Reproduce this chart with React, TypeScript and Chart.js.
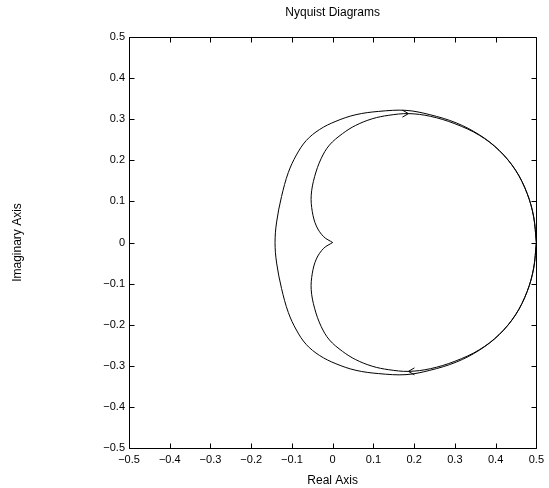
import React, { useEffect, useRef } from 'react';
import { Chart, registerables } from 'chart.js';

Chart.register(...registerables);

const TITLE = 'Nyquist Diagrams';
const X_TITLE = 'Real Axis';
const Y_TITLE = 'Imaginary Axis';

const xTickValues = [-0.5, -0.4, -0.3, -0.2, -0.1, 0, 0.1, 0.2, 0.3, 0.4, 0.5];
const xTickLabels = ['\u22120.5', '\u22120.4', '\u22120.3', '\u22120.2', '\u22120.1', '0', '0.1', '0.2', '0.3', '0.4', '0.5'];
const yTickValues = [-0.5, -0.4, -0.3, -0.2, -0.1, 0, 0.1, 0.2, 0.3, 0.4, 0.5];
const yTickLabels = ['\u22120.5', '\u22120.4', '\u22120.3', '\u22120.2', '\u22120.1', '0', '0.1', '0.2', '0.3', '0.4', '0.5'];

// Outer loop, right end -> top -> left -> bottom -> right end
const outerX = [
  0.5, 0.4934, 0.4774, 0.449, 0.4085, 0.36, 0.3034, 0.2386, 0.18, 0.113, 0.057, 0.008, -0.032, -0.065, -0.089, -0.109, -0.1255, -0.1376, -0.1415,
  -0.1376, -0.1255, -0.109, -0.089, -0.065, -0.032, 0.008, 0.057, 0.113, 0.18, 0.2386, 0.3034, 0.36, 0.4085, 0.449, 0.4774, 0.4934, 0.5,
];
const outerY = [
  0, 0.0626, 0.1194, 0.176, 0.2245, 0.262, 0.291, 0.311, 0.3215, 0.319, 0.311, 0.295, 0.275, 0.248, 0.213, 0.17, 0.112, 0.05, 0,
  -0.05, -0.112, -0.17, -0.213, -0.248, -0.275, -0.295, -0.311, -0.319, -0.3215, -0.311, -0.291, -0.262, -0.2245, -0.176, -0.1194, -0.0626, 0,
];

// Inner branch, upper half: origin -> left bulge -> joins the outer loop
const innerUpX = [0, -0.022, -0.04, -0.05, -0.0527, -0.0444, -0.0284, -0.008, 0.0243, 0.0566, 0.097, 0.1376, 0.186, 0.24, 0.3, 0.36, 0.4085, 0.449, 0.4774, 0.4934, 0.5];
const innerUpY = [0, 0.014, 0.04, 0.075, 0.115, 0.16, 0.204, 0.237, 0.265, 0.285, 0.301, 0.3095, 0.3136, 0.307, 0.289, 0.261, 0.224, 0.1757, 0.1192, 0.0625, 0];

// Inner branch, lower half
const innerLoX = [0, -0.022, -0.04, -0.05, -0.0527, -0.0444, -0.0284, -0.008, 0.0243, 0.0566, 0.097, 0.1376, 0.186, 0.24, 0.3, 0.36, 0.4085, 0.449, 0.4774, 0.4934, 0.5];
const innerLoY = [0, -0.014, -0.04, -0.075, -0.115, -0.16, -0.204, -0.237, -0.265, -0.285, -0.301, -0.3095, -0.3136, -0.307, -0.289, -0.261, -0.224, -0.1757, -0.1192, -0.0625, 0];

// Direction arrows (tip positions and direction along x)
const arrowX = [0.186, 0.186];
const arrowY = [0.3136, -0.3136];
const arrowDir = [1, -1];

const FONT = "'Liberation Sans', Arial, Helvetica, sans-serif";

const toPts = (xs: number[], ys: number[]) => xs.map((x, i) => ({ x, y: ys[i] }));

const framePlugin = {
  id: 'matlabFrame',
  afterDraw(chart: any) {
    const { ctx, chartArea } = chart;
    const xs = chart.scales.x;
    const ys = chart.scales.y;
    const L = Math.round(chartArea.left) + 0.5;
    const R = Math.round(chartArea.right) + 0.5;
    const T = Math.round(chartArea.top) + 0.5;
    const B = Math.round(chartArea.bottom) + 0.5;
    const TL = 5;
    ctx.save();
    ctx.strokeStyle = '#000';
    ctx.lineWidth = 1;
    ctx.beginPath();
    ctx.rect(L, T, R - L, B - T);
    xs.ticks.forEach((t: any) => {
      const p = Math.round(xs.getPixelForValue(t.value)) + 0.5;
      ctx.moveTo(p, B);
      ctx.lineTo(p, B - TL);
      ctx.moveTo(p, T);
      ctx.lineTo(p, T + TL);
    });
    ys.ticks.forEach((t: any) => {
      const p = Math.round(ys.getPixelForValue(t.value)) + 0.5;
      ctx.moveTo(L, p);
      ctx.lineTo(L + TL, p);
      ctx.moveTo(R, p);
      ctx.lineTo(R - TL, p);
    });
    ctx.stroke();
    // arrows
    ctx.beginPath();
    arrowX.forEach((ax, i) => {
      const px = xs.getPixelForValue(ax);
      const py = ys.getPixelForValue(arrowY[i]);
      const d = arrowDir[i];
      ctx.moveTo(px - d * 6, py - 3.5);
      ctx.lineTo(px, py);
      ctx.lineTo(px - d * 6, py + 3.5);
    });
    ctx.stroke();
    ctx.restore();
  },
};

export default function App() {
  const ref = useRef<HTMLCanvasElement | null>(null);
  useEffect(() => {
    if (!ref.current) return;
    const lineDs = (data: any) => ({
      data,
      showLine: true,
      borderColor: '#000',
      borderWidth: 1,
      pointRadius: 0,
      tension: 0.35,
      fill: false,
    });
    const tickFont = { family: FONT, size: 11 };
    const titleFont = { family: FONT, size: 12, weight: 'normal' as const };
    const chart = new Chart(ref.current, {
      type: 'scatter',
      data: {
        datasets: [
          lineDs(toPts(outerX, outerY)),
          lineDs(toPts(innerUpX, innerUpY)),
          lineDs(toPts(innerLoX, innerLoY)),
        ],
      },
      options: {
        animation: false,
        responsive: false,
        maintainAspectRatio: false,
        layout: { padding: { left: 0, right: 8, top: 0, bottom: 0 } },
        plugins: {
          legend: { display: false },
          tooltip: { enabled: false },
          title: {
            display: true,
            fullSize: false,
            text: TITLE,
            color: '#000',
            font: titleFont,
            padding: { top: 5, bottom: 17.6 },
          },
        },
        scales: {
          x: {
            type: 'linear',
            min: -0.5,
            max: 0.5,
            afterBuildTicks: (s: any) => {
              s.ticks = xTickValues.map((v) => ({ value: v }));
            },
            afterFit: (s: any) => {
              s.height = 40;
            },
            grid: { display: false, drawTicks: false },
            border: { display: false },
            ticks: {
              autoSkip: false,
              maxRotation: 0,
              padding: 5,
              color: '#000',
              font: tickFont,
              callback: (v: any) => {
                const i = xTickValues.findIndex((t) => Math.abs(t - Number(v)) < 1e-9);
                return i >= 0 ? xTickLabels[i] : '';
              },
            },
            title: { display: true, text: X_TITLE, color: '#000', font: titleFont, padding: { top: 0, bottom: 0 } },
          },
          y: {
            type: 'linear',
            min: -0.5,
            max: 0.5,
            afterBuildTicks: (s: any) => {
              s.ticks = yTickValues.map((v) => ({ value: v }));
            },
            afterFit: (s: any) => {
              s.width = 129;
            },
            grid: { display: false, drawTicks: false },
            border: { display: false },
            ticks: {
              autoSkip: false,
              padding: 4,
              color: '#000',
              font: tickFont,
              callback: (v: any) => {
                const i = yTickValues.findIndex((t) => Math.abs(t - Number(v)) < 1e-9);
                return i >= 0 ? yTickLabels[i] : '';
              },
            },
            title: { display: true, text: Y_TITLE, color: '#000', font: titleFont, padding: { top: 10, bottom: 0 } },
          },
        },
      },
      plugins: [framePlugin],
    });
    return () => chart.destroy();
  }, []);
  return (
    <div style={{ position: 'absolute', left: 0, top: 0, width: 549, height: 488, background: '#fff' }}>
      <canvas ref={ref} width={549} height={488} style={{ display: 'block' }} />
    </div>
  );
}
